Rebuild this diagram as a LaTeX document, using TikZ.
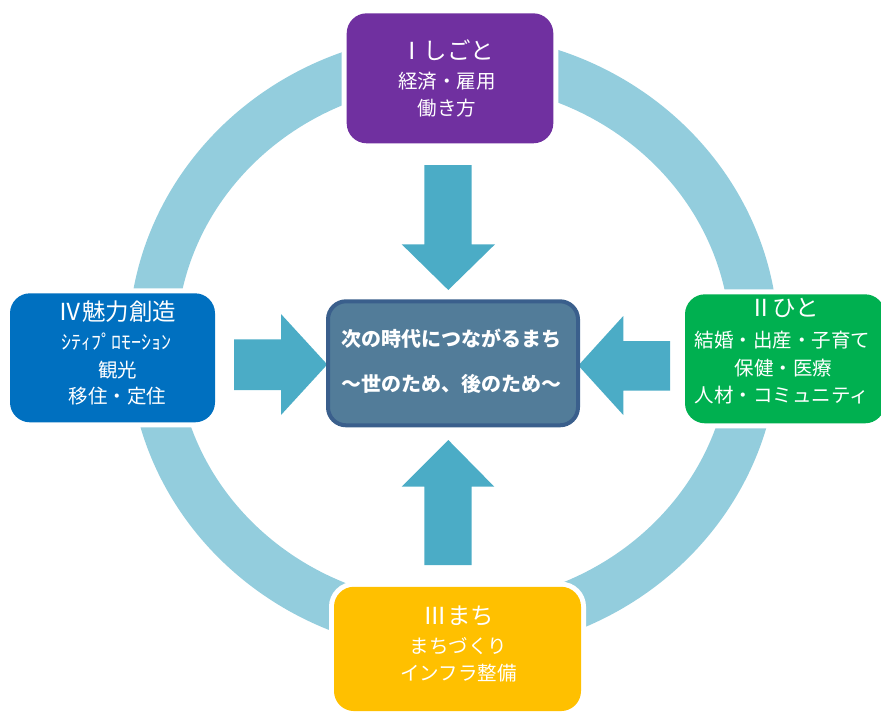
\documentclass[tikz,border=0pt]{standalone}
\usepackage{fontspec}
\usepackage{graphicx}
\newfontfamily\jp{Noto Sans CJK JP}
\definecolor{ringc}{HTML}{93CDDD}
\definecolor{arrc}{HTML}{4BACC6}
\definecolor{purp}{HTML}{7030A0}
\definecolor{blu}{HTML}{0070C0}
\definecolor{grn}{HTML}{00B050}
\definecolor{yel}{HTML}{FFC000}
\definecolor{cfill}{HTML}{527C99}
\definecolor{cline}{HTML}{3A5F8C}
\begin{document}
\begin{tikzpicture}[x=1pt,y=-1pt,
  box/.style={rounded corners=20pt, inner sep=0pt, preaction={draw=white, line width=10pt}},
  cbox/.style={rounded corners=18pt, inner sep=0pt, fill=cfill, draw=cline, line width=4pt},
  blockarrow/.style={fill=arrc},
  txt/.style={text=white, inner sep=0pt, text height=0.88em, text depth=0.12em, font=\jp\fontsize{19.5}{20}\selectfont},
  ttl/.style={txt, font=\jp\fontsize{23.5}{24}\selectfont},
  ctxt/.style={txt, font=\jp\bfseries\fontsize{20}{20}\selectfont}]
\useasboundingbox (0,0) rectangle (881,713);
% ring
\fill[ringc, even odd rule] (453.5,343.5) ellipse [x radius=325pt, y radius=310pt]
  (453.5,343.5) ellipse [x radius=277pt, y radius=260pt];
% block arrows
\fill[blockarrow] (424.3,165) -- (471.7,165) -- (471.7,244.3) -- (495,244.3) -- (448.3,290) -- (401.7,244.3) -- (424.3,244.3) -- cycle;
\fill[blockarrow] (424.3,565) -- (471.7,565) -- (471.7,486.7) -- (494.3,486.7) -- (448.3,440) -- (401.7,486.7) -- (424.3,486.7) -- cycle;
\fill[blockarrow] (234,339.3) -- (281,339.3) -- (281,314) -- (327.3,364.5) -- (281,415) -- (281,390) -- (234,390) -- cycle;
\fill[blockarrow] (670,341) -- (623.3,341) -- (623.3,316) -- (578.3,365.5) -- (623.3,415) -- (623.3,390.7) -- (670,390.7) -- cycle;
% boxes
\node[box, fill=purp, minimum width=206.6pt, minimum height=130pt] (shigoto) at (450,78.3) {};
\node[box, fill=blu, minimum width=205pt, minimum height=129pt] (miryoku) at (112.5,357.8) {};
\node[box, fill=grn, minimum width=200pt, minimum height=129pt] (hito) at (785,358.8) {};
\node[box, fill=yel, minimum width=247pt, minimum height=124.3pt] (machi) at (457.5,648.9) {};
\node[cbox, minimum width=250pt, minimum height=124pt] (center) at (453,363.3) {};
% texts
\node[ttl] (s1) at (447,55.8) {Ⅰしごと};
\node[txt] (s2) at (447,85) {経済・雇用};
\node[txt] (s3) at (447,111.3) {働き方};
\node[ttl] (m1) at (117.5,316.7) {Ⅳ魅力創造};
\node[txt] (m2) at (116.7,345.8) {\scalebox{1.03}[1]{ｼﾃｨﾌﾟﾛﾓｰｼｮﾝ}};
\node[txt] (m3) at (117.5,373.3) {観光};
\node[txt] (m4) at (117.5,399.7) {移住・定住};
\node[ttl] (h1) at (784,312.5) {Ⅱひと};
\node[txt] (h2) at (782.5,343.3) {結婚・出産・子育て};
\node[txt] (h3) at (783.3,371.7) {保健・医療};
\node[txt] (h4) at (781.7,398.3) {人材・コミュニティ};
\node[ttl] (k1) at (459,620.8) {Ⅲまち};
\node[txt] (k2) at (458.3,650) {まちづくり};
\node[txt] (k3) at (458.3,676.7) {インフラ整備};
\node[ctxt] (c1) at (451.7,342.5) {次の時代につながるまち};
\node[ctxt] (c2) at (451.7,387.5) {～世のため、後のため～};
\end{tikzpicture}
\end{document}
